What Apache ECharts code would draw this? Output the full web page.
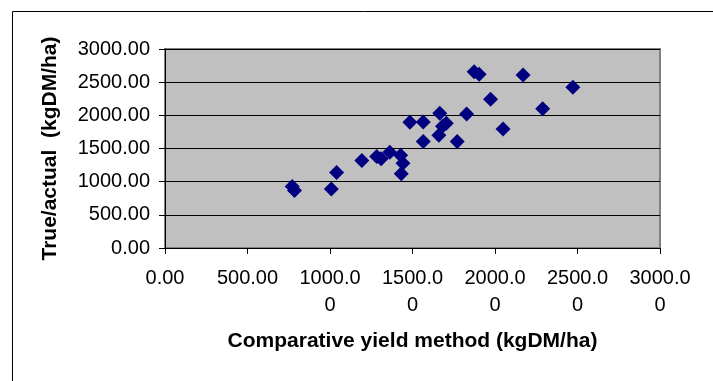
<!DOCTYPE html>
<html>
<head>
<meta charset="utf-8">
<script src="https://cdn.jsdelivr.net/npm/echarts@6/dist/echarts.min.js"></script>
<style>html,body{margin:0;padding:0;background:#fff;}#c{width:713px;height:381px;}</style>
</head>
<body>
<div id="c"></div>
<script>
// Comparative yield method (kgDM/ha)
var xValues = [771, 785, 1008, 1040, 1193, 1283, 1310, 1362, 1428, 1442, 1432, 1484, 1565, 1565, 1665, 1705, 1682, 1660, 1771, 1828, 1874, 1904, 1973, 2049, 2170, 2289, 2472];
// True/actual (kgDM/ha)
var yValues = [927, 866, 890, 1138, 1320, 1379, 1345, 1442, 1400, 1279, 1118, 1896, 1900, 1604, 2032, 1881, 1835, 1700, 1604, 2020, 2658, 2619, 2242, 1795, 2608, 2100, 2423];
var xTitle = 'Comparative yield method (kgDM/ha)';
var yTitle = 'True/actual  (kgDM/ha)';

var pts = xValues.map(function(x, i){ return [x, yValues[i]]; });
var font = "'Liberation Sans', Arial, sans-serif";
var chart = echarts.init(document.getElementById('c'), null, {renderer: 'canvas'});
chart.setOption({
  animation: false,
  backgroundColor: '#fff',
  graphic: [{
    type: 'rect', left: 10, top: 9, z: -10,
    shape: {x: 0, y: 0, width: 740, height: 420},
    style: {fill: 'none', stroke: '#000', lineWidth: 1}
  }],
  grid: {
    left: 165, right: 53, top: 49, bottom: 133,
    show: true, backgroundColor: '#C0C0C0', borderColor: '#808080', borderWidth: 2
  },
  xAxis: {
    type: 'value', min: 0, max: 3000, interval: 500,
    name: xTitle, nameLocation: 'middle', nameGap: 83,
    nameTextStyle: {fontFamily: font, fontSize: 21, fontWeight: 'bold', color: '#000'},
    axisLine: {show: true, onZero: false, lineStyle: {color: '#000', width: 1}},
    axisTick: {show: true, length: 6, lineStyle: {color: '#000'}},
    axisLabel: {
      fontFamily: font, fontSize: 20, color: '#000', margin: 17, lineHeight: 27,
      formatter: function(v){ var s = v.toFixed(2); return s.length > 6 ? s.slice(0,6) + '\n' + s.slice(6) : s; }
    },
    splitLine: {show: false}
  },
  yAxis: {
    type: 'value', min: 0, max: 3000, interval: 500,
    name: yTitle, nameLocation: 'middle', nameGap: 104, nameRotate: 90,
    nameTextStyle: {fontFamily: font, fontSize: 21, fontWeight: 'bold', color: '#000'},
    axisLine: {show: true, onZero: false, lineStyle: {color: '#000', width: 1}},
    axisTick: {show: true, length: 6, lineStyle: {color: '#000'}},
    axisLabel: {fontFamily: font, fontSize: 20, color: '#000', margin: 15,
      formatter: function(v){ return v.toFixed(2); }},
    splitLine: {show: true, lineStyle: {color: '#000', width: 1}}
  },
  series: [{
    type: 'scatter', data: pts, symbol: 'diamond', symbolSize: 15,
    itemStyle: {color: '#000080', opacity: 1}
  }]
});
</script>
</body>
</html>
